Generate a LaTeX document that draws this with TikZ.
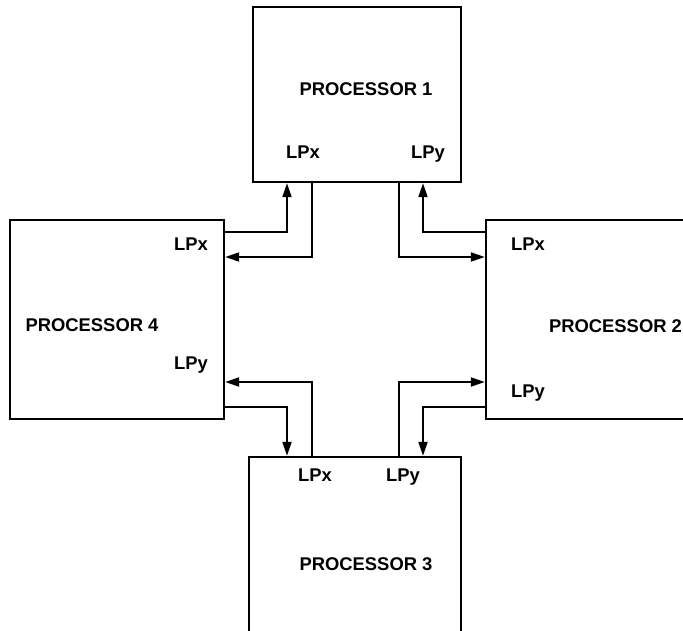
\documentclass[tikz,border=0pt]{standalone}
\usepackage{fontspec}
\setmainfont{Liberation Sans}
\usetikzlibrary{arrows.meta}

\begin{document}
\begin{tikzpicture}[x=1pt, y=-1pt,
  proc/.style={rectangle, draw=black, line width=2.4pt, inner sep=0pt},
  lbl/.style={font=\fontsize{18.4}{22}\selectfont\bfseries, inner sep=0pt, text height=13pt, text depth=0pt},
  arr/.style={-{Triangle[length=14pt, width=9pt]}, line width=2pt}]
\clip (0,0) rectangle (683,630);
% processors
\node[proc, minimum width=208pt, minimum height=175pt] (p1) at (357,94.5) {};
\node[proc, minimum width=234pt, minimum height=199pt] (p2) at (603,319.5) {};
\node[proc, minimum width=212pt, minimum height=193pt] (p3) at (355,553.5) {};
\node[proc, minimum width=214pt, minimum height=199pt] (p4) at (117,319.5) {};
% names and ports
\node[lbl] (n1) at (366,89) {PROCESSOR 1};
\node[lbl] (n1x) at (303,152) {LPx};
\node[lbl] (n1y) at (428,152) {LPy};
\node[lbl] (n2) at (615.5,326) {PROCESSOR 2};
\node[lbl] (n2x) at (528,244) {LPx};
\node[lbl] (n2y) at (528,391) {LPy};
\node[lbl] (n3) at (366,564) {PROCESSOR 3};
\node[lbl] (n3x) at (315,475) {LPx};
\node[lbl] (n3y) at (403,475) {LPy};
\node[lbl] (n4) at (92,325) {PROCESSOR 4};
\node[lbl] (n4x) at (191,244) {LPx};
\node[lbl] (n4y) at (191,363) {LPy};
% links
\draw[arr] (p4.east |- 0,232) -| (287,0 |- p1.south);
\draw[arr] (312,0 |- p1.south) |- (p4.east |- 0,257);
\draw[arr] (399,0 |- p1.south) |- (p2.west |- 0,257);
\draw[arr] (p2.west |- 0,232) -| (423,0 |- p1.south);
\draw[arr] (312,0 |- p3.north) |- (p4.east |- 0,382);
\draw[arr] (p4.east |- 0,407) -| (287,0 |- p3.north);
\draw[arr] (399,0 |- p3.north) |- (p2.west |- 0,382);
\draw[arr] (p2.west |- 0,407) -| (423,0 |- p3.north);
\end{tikzpicture}
\end{document}
